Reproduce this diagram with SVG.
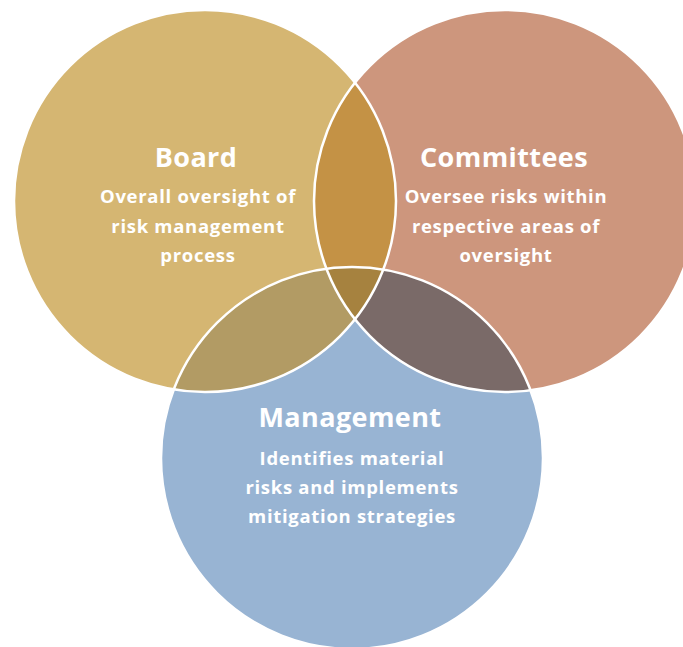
<svg xmlns="http://www.w3.org/2000/svg" width="683" height="647" viewBox="0 0 683 647">
<style>
.t{font-family:"Open Sans","Liberation Sans",sans-serif;font-weight:700;fill:#ffffff;text-anchor:middle;font-variant-ligatures:none}
.h{font-size:27px;letter-spacing:0.4px}
.b{font-size:18.5px;letter-spacing:0.7px}
.ol{fill:none;stroke:#ffffff;stroke-width:2.5}
</style>
<defs>
<clipPath id="cB"><circle cx="205" cy="201" r="191"/></clipPath>
<clipPath id="cC"><circle cx="505" cy="201" r="191"/></clipPath>
<clipPath id="cM"><circle cx="352" cy="458" r="191"/></clipPath>
</defs>
<rect width="683" height="647" fill="#ffffff"/>
<g id="board"><circle cx="205" cy="201" r="191" fill="#D5B672"/></g>
<g id="committees"><circle cx="505" cy="201" r="191" fill="#CD967D"/></g>
<g id="management"><circle cx="352" cy="458" r="191" fill="#98B4D3"/></g>
<g id="overlaps">
<g clip-path="url(#cB)"><circle cx="505" cy="201" r="191" fill="#C49245"/></g>
<g clip-path="url(#cB)"><circle cx="352" cy="458" r="191" fill="#B29B64"/></g>
<g clip-path="url(#cC)"><circle cx="352" cy="458" r="191" fill="#7A6A68"/></g>
<g clip-path="url(#cB)"><g clip-path="url(#cC)"><circle cx="352" cy="458" r="191" fill="#A6823F"/></g></g>
</g>
<g id="outlines">
<circle class="ol" cx="205" cy="201" r="191"/>
<circle class="ol" cx="505" cy="201" r="191"/>
<circle class="ol" cx="352" cy="458" r="191"/>
</g>
<g id="board-text">
<text class="t h" x="196" y="167">Board</text>
<text class="t b" x="198" y="203">Overall oversight of</text>
<text class="t b" x="198" y="233">risk management</text>
<text class="t b" x="198" y="262">process</text>
</g>
<g id="committees-text">
<text class="t h" x="504" y="167">Committees</text>
<text class="t b" x="506" y="203">Oversee risks within</text>
<text class="t b" x="506" y="233">respective areas of</text>
<text class="t b" x="506" y="262">oversight</text>
</g>
<g id="management-text">
<text class="t h" x="350" y="427">Management</text>
<text class="t b" x="352" y="465">Identifies material</text>
<text class="t b" x="352" y="494">risks and implements</text>
<text class="t b" x="352" y="523">mitigation strategies</text>
</g>
</svg>
